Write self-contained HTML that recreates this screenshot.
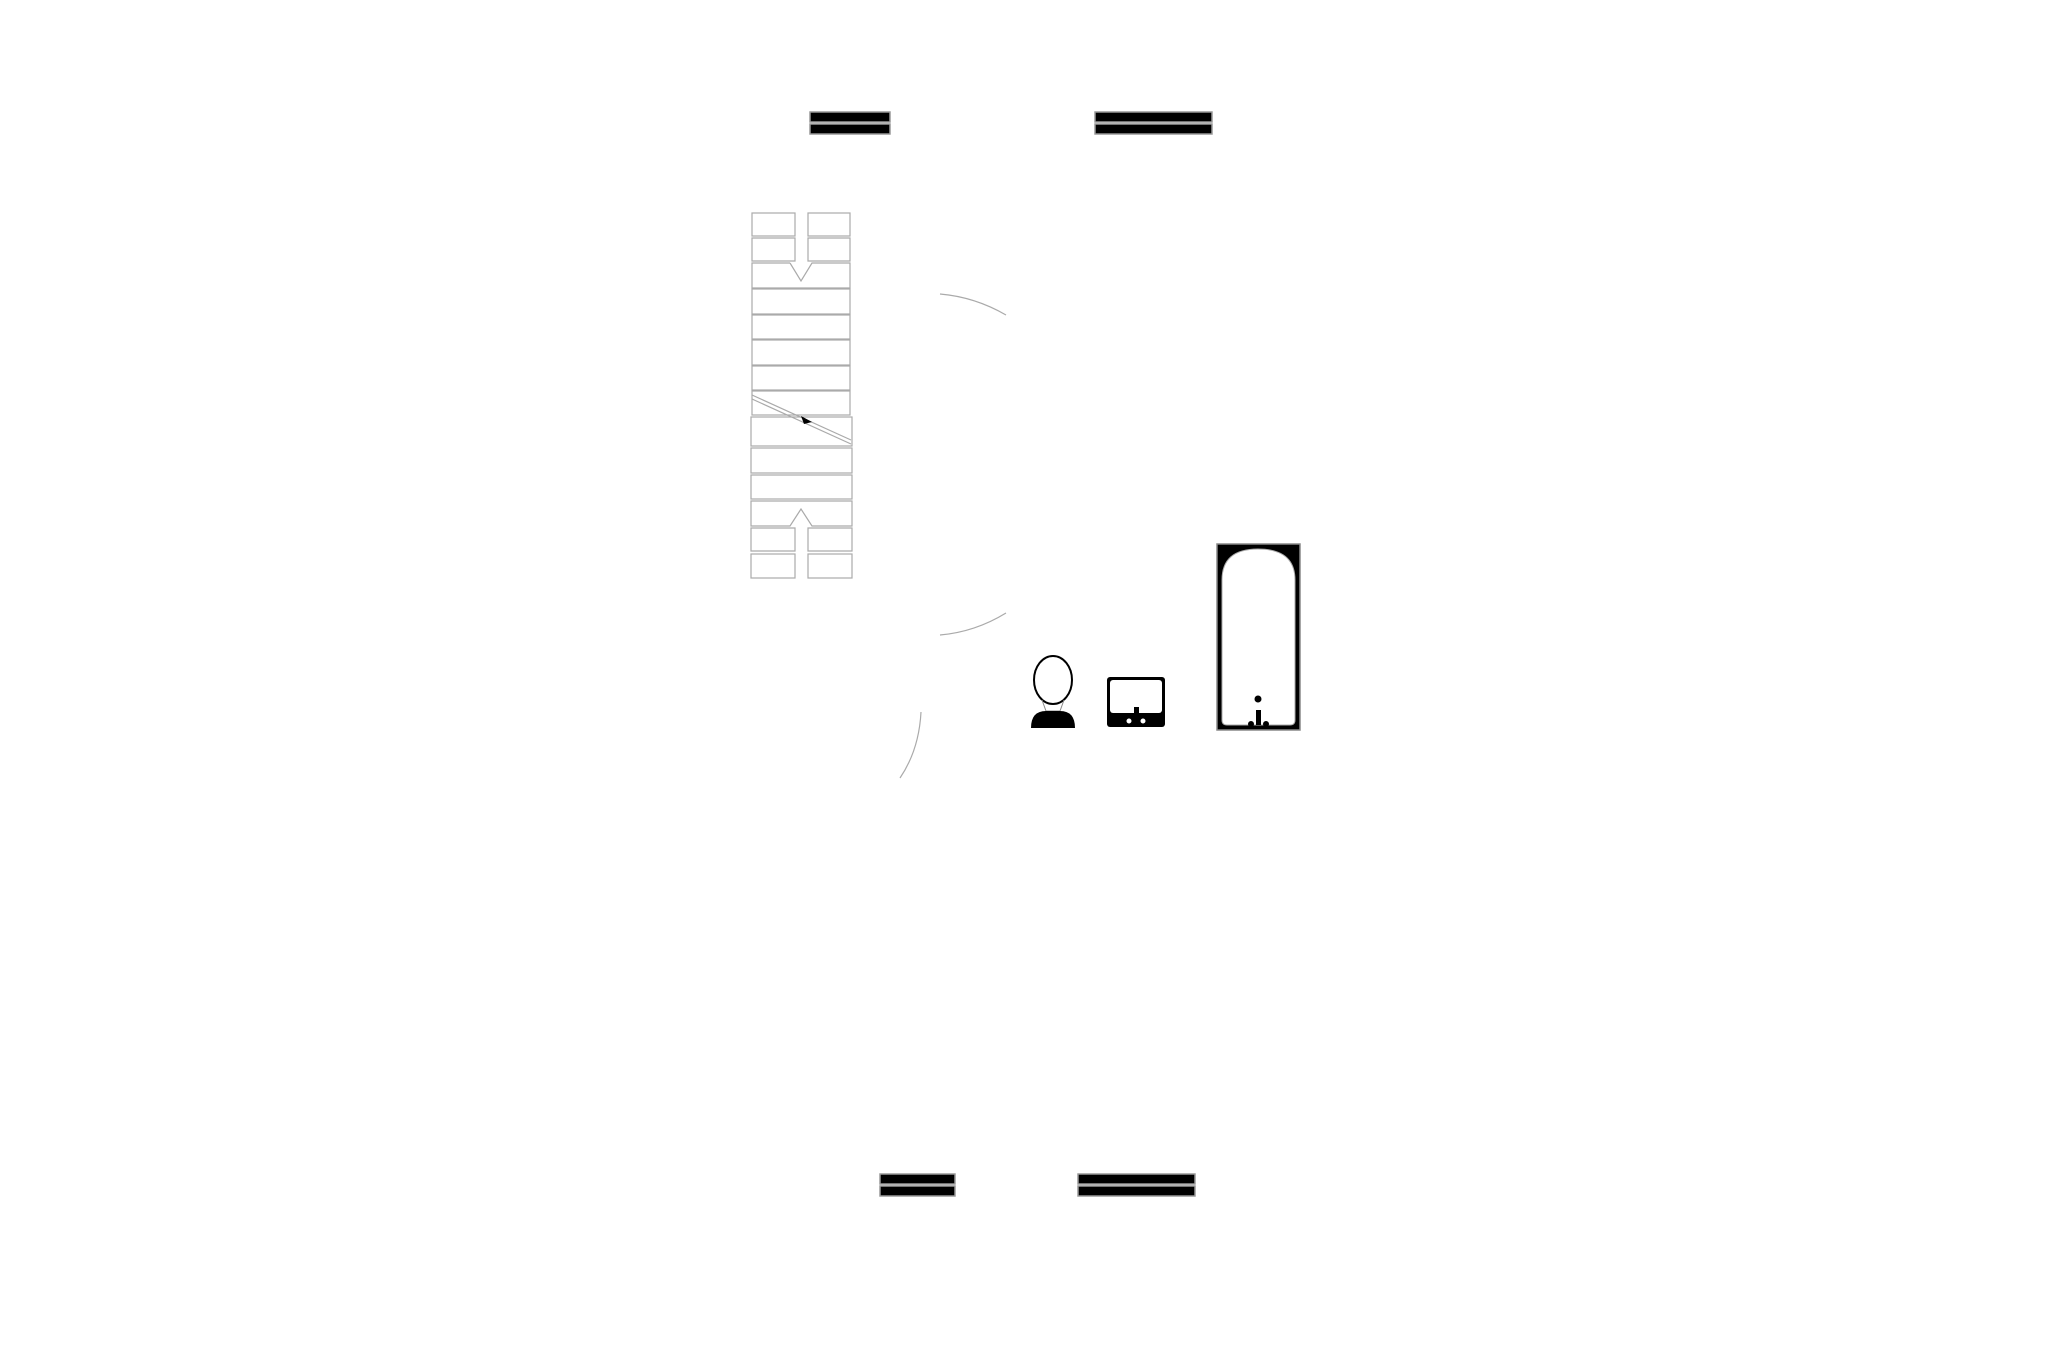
<!DOCTYPE html>
<html><head><style>html,body{margin:0;padding:0;background:#fff;width:2057px;height:1371px;overflow:hidden}</style></head>
<body>
<svg width="2057" height="1371" viewBox="0 0 2057 1371" xmlns="http://www.w3.org/2000/svg">
<g stroke="#999" stroke-width="1.5" fill="#000">
<rect x="810" y="112" width="80" height="10"/><rect x="810" y="124" width="80" height="10"/>
<rect x="1095" y="112" width="117" height="10"/><rect x="1095" y="124" width="117" height="10"/>
<rect x="880" y="1174" width="75" height="10"/><rect x="880" y="1186" width="75" height="10"/>
<rect x="1078" y="1174" width="117" height="10"/><rect x="1078" y="1186" width="117" height="10"/>
</g>
<g stroke="#aaa" stroke-width="1.2" fill="none">
<rect x="752" y="213" width="43" height="23"/><rect x="808" y="213" width="42" height="23"/>
<path d="M752 238 H795 V261 H752 Z M808 238 H850 V261 H808 Z"/>
<path d="M790 263 L801 281 L812 263 H850 V288 H752 V263 H790"/>
<rect x="752" y="289" width="98" height="25"/>
<rect x="752" y="315" width="98" height="24"/>
<rect x="752" y="340" width="98" height="25"/>
<rect x="752" y="366" width="98" height="24"/>
<rect x="752" y="391" width="98" height="24"/>
<rect x="751" y="417" width="101" height="29"/>
<path d="M752 395 L851 440 M752 399 L851 444"/>
<rect x="751" y="448" width="101" height="25"/>
<rect x="751" y="475" width="101" height="24"/>
<path d="M751 501 H852 V526 H812 L801 509 L790 526 H751 Z"/>
<path d="M751 528 H795 V551 H751 Z M808 528 H852 V551 H808 Z"/>
<rect x="751" y="554" width="44" height="24"/><rect x="808" y="554" width="44" height="24"/>
<path d="M940 294 Q975 297 1006 315"/>
<path d="M940 635 Q975 632 1006 613"/>
<path d="M921 712 Q919 750 900 778"/>
</g>
<path d="M801 416 L812 422 L804 424 Z" fill="#000"/>
<!-- toilet -->
<ellipse cx="1053" cy="680" rx="19" ry="24" fill="#fff" stroke="#000" stroke-width="2"/>
<path d="M1042 700 L1046 711 H1060 L1064 700" fill="none" stroke="#888"/>
<path d="M1031 728 Q1031 711 1046 711 H1060 Q1075 711 1075 728 Z" fill="#000"/>
<!-- sink -->
<rect x="1107" y="677" width="58" height="50" rx="3" fill="#000"/>
<rect x="1110" y="680" width="52" height="33" rx="3" fill="#fff"/>
<rect x="1134" y="707" width="5" height="14" fill="#000"/>
<circle cx="1129" cy="721" r="3" fill="#fff" stroke="#000"/><circle cx="1143" cy="721" r="3" fill="#fff" stroke="#000"/>
<!-- tub -->
<rect x="1217" y="544" width="83" height="186" fill="#000" stroke="#888" stroke-width="1.5"/>
<path d="M1222 720 V580 Q1222 549 1258 549 Q1295 549 1295 580 V720 Q1295 725 1290 725 H1227 Q1222 725 1222 720 Z" fill="#fff" stroke="#aaa"/>
<circle cx="1258" cy="699" r="3.5" fill="#000"/>
<rect x="1256" y="710" width="5" height="15" fill="#000"/>
<circle cx="1251" cy="724" r="3" fill="#000"/><circle cx="1266" cy="724" r="3" fill="#000"/>
</svg>
</body></html>
